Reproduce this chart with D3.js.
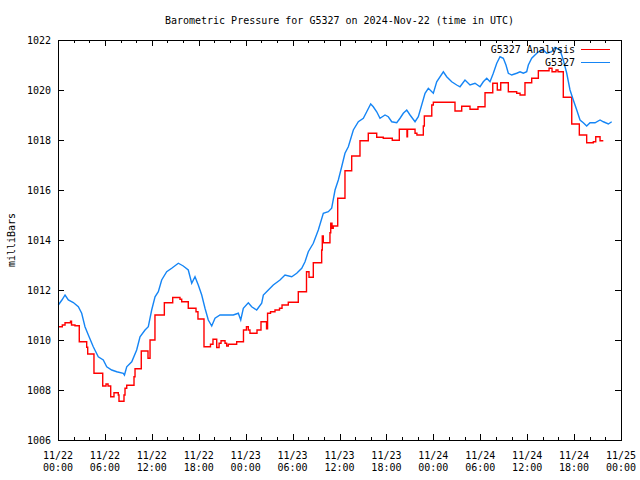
<!DOCTYPE html>
<html><head><meta charset="utf-8">
<script src="https://cdn.jsdelivr.net/npm/d3@7"></script>
<style>
body{margin:0;background:#fff}
svg{display:block}
text{font-family:"DejaVu Sans Mono","Liberation Mono",monospace;font-size:10px;fill:#000}
</style>
</head><body><svg id="c" width="640" height="480"></svg>
<script>
const chartTitle = "Barometric Pressure for G5327 on 2024-Nov-22 (time in UTC)";
const yAxisLabel = "milliBars";
const seriesNames = ["G5327 Analysis", "G5327"];
const startTime = "2024-11-22T00:00:00Z";
const endTime = "2024-11-25T00:00:00Z";
const yTickValues = [1006, 1008, 1010, 1012, 1014, 1016, 1018, 1020, 1022];

// Analysis (step) series: hours since start, pressure (mb)
const anaHours = [0,0.55,0.9,1.6,1.73,2.17,2.72,3.67,3.8,4.6,
5.72,6.14,6.4,6.74,7.16,7.71,7.8,8.44,8.57,8.79,
9.72,9.85,10.65,11.51,11.77,12.4,13.6,14.67,15.6,15.82,
16.66,17.65,17.9,18.67,19.5,19.82,20.3,20.6,20.85,21.36,
21.57,21.78,22.85,23.72,24.1,24.34,24.55,25.45,25.96,26.67,
26.8,27.18,27.75,28.33,28.65,29.45,30.73,31.78,32.1,32.65,
33.72,33.8,33.93,34.78,34.88,35.04,35.2,35.77,36.7,37.56,
38.62,39.68,40.76,41.6,42.75,43.65,44.63,44.7,45.66,45.9,
46.72,46.85,47.8,48.0,50.77,51.63,52.69,53.71,54.61,55.6,
56.18,56.62,57.59,58.66,59.09,59.72,60.58,61.43,62.8,63.18,
63.69,63.94,64.62,65.7,66.67,67.61,68.46,68.77,69.32,69.74];
const anaPressure = [1010.53,1010.6,1010.69,1010.75,1010.6,1010.57,1009.93,1009.71,1009.44,1008.67,
1008.16,1008.24,1008.16,1007.73,1007.89,1007.8,1007.55,1007.8,1008.07,1008.19,
1008.53,1008.85,1009.56,1009.27,1010.0,1011.0,1011.49,1011.7,1011.63,1011.53,
1011.27,1011.13,1010.84,1009.73,1009.83,1010.03,1009.7,1009.87,1009.97,1009.87,
1009.76,1009.83,1009.93,1010.4,1010.53,1010.4,1010.27,1010.4,1010.73,1010.45,
1011.07,1011.13,1011.2,1011.27,1011.4,1011.51,1011.93,1012.73,1012.51,1013.09,
1013.6,1014.16,1013.89,1014.29,1014.67,1014.47,1014.56,1015.67,1016.77,1017.36,
1017.97,1018.27,1018.11,1018.07,1017.99,1018.43,1018.13,1018.43,1018.27,1018.2,
1018.56,1018.96,1019.4,1019.51,1019.16,1019.35,1019.23,1019.33,1019.89,1020.27,
1020.0,1020.29,1019.93,1019.87,1019.8,1020.29,1020.47,1020.77,1020.87,1020.73,
1020.8,1020.73,1019.71,1018.64,1018.2,1017.89,1017.93,1018.13,1017.97,1017.97];

// Observed series: hours since start, pressure (mb)
const obsHours = [0.04,0.5,0.9,1.32,1.96,2.6,3.03,3.45,3.88,4.51,
5.15,5.79,6.23,6.87,7.51,8.35,8.5,8.79,9.43,10.06,
10.49,11.13,11.55,11.98,12.41,12.83,13.26,13.9,14.54,15.39,
16.02,16.66,17.1,17.52,17.94,18.38,18.8,19.22,19.66,20.08,
20.72,21.57,22.42,23.06,23.37,23.7,24.34,24.77,25.41,26.05,
26.26,26.9,27.53,28.39,29.03,29.89,30.53,31.17,31.59,32.01,
32.65,33.29,33.93,34.57,35.0,35.43,35.85,36.28,36.7,37.13,
37.77,38.41,39.05,39.48,39.99,40.32,40.76,41.18,41.82,42.24,
42.68,43.32,43.74,44.16,44.6,45.02,45.66,46.08,46.51,46.94,
47.36,48.0,48.43,49.28,49.71,50.35,50.99,51.41,52.05,52.69,
53.33,53.97,54.39,54.83,55.25,55.67,56.11,56.53,56.95,57.29,
57.59,58.02,58.66,59.09,59.51,59.94,60.15,60.58,61.0,61.43,
62.07,62.5,63.14,63.56,64.2,64.62,65.06,65.48,65.9,66.34,
66.76,67.18,67.61,68.04,68.68,69.32,69.74,70.38,70.81];
const obsPressure = [1011.4,1011.6,1011.8,1011.6,1011.5,1011.33,1011.07,1010.53,1010.2,1009.73,
1009.33,1009.2,1008.93,1008.8,1008.73,1008.67,1008.6,1008.93,1009.13,1009.6,
1010.13,1010.4,1010.53,1011.2,1011.73,1011.93,1012.4,1012.73,1012.87,1013.07,
1012.96,1012.8,1012.27,1012.53,1012.2,1011.8,1011.27,1010.8,1010.56,1010.87,
1011.0,1011.0,1011.0,1011.07,1010.8,1011.27,1011.49,1011.33,1011.2,1011.47,
1011.8,1012.0,1012.2,1012.4,1012.6,1012.53,1012.67,1012.87,1013.13,1013.53,
1013.87,1014.4,1015.07,1015.13,1015.27,1016.0,1016.4,1016.93,1017.47,1017.73,
1018.4,1018.73,1018.87,1019.13,1019.44,1019.33,1019.13,1018.87,1019.0,1018.93,
1018.73,1018.69,1018.87,1019.07,1019.2,1019.0,1018.73,1018.93,1019.4,1019.87,
1020.07,1019.87,1020.33,1020.73,1020.53,1020.33,1020.2,1020.13,1020.4,1020.2,
1020.27,1020.13,1020.33,1020.47,1020.33,1020.67,1021.07,1021.33,1021.27,1021.0,
1020.67,1020.6,1020.67,1020.73,1020.67,1020.73,1021.0,1021.27,1021.4,1021.53,
1021.6,1021.47,1021.53,1021.7,1021.6,1021.2,1020.67,1020.0,1019.6,1019.2,
1018.8,1018.69,1018.56,1018.69,1018.69,1018.8,1018.73,1018.64,1018.73];

const colors = {analysis: "#ff0000", obs: "#1585f5"};
const margin = {left: 58, right: 621, top: 40, bottom: 440};

const svg = d3.select("#c");
const t0 = new Date(startTime), t1 = new Date(endTime);
const toDate = h => new Date(t0.getTime() + h * 3600e3);

const x = d3.scaleUtc().domain([t0, t1]).range([margin.left, margin.right]);
const y = d3.scaleLinear().domain([1006, 1022]).range([margin.bottom, margin.top]);

const majorTicks = x.ticks(d3.utcHour.every(6));
const minorTicks = x.ticks(d3.utcHour.every(2)).filter(d => d.getUTCHours() % 6 !== 0);

function axisG(axis, tx, ty) {
  const g = svg.append("g").attr("transform", `translate(${tx},${ty})`).attr("shape-rendering", "crispEdges").call(axis);
  g.select(".domain").remove();
  g.selectAll("line").attr("stroke", "#000");
  return g;
}
axisG(d3.axisBottom(x).tickValues(majorTicks).tickSize(-6).tickFormat(""), 0, margin.bottom);
axisG(d3.axisBottom(x).tickValues(minorTicks).tickSize(-3).tickFormat(""), 0, margin.bottom);
axisG(d3.axisTop(x).tickValues(majorTicks).tickSize(-6).tickFormat(""), 0, margin.top);
axisG(d3.axisTop(x).tickValues(minorTicks).tickSize(-3).tickFormat(""), 0, margin.top);
const yl = axisG(d3.axisLeft(y).tickValues(yTickValues).tickSize(-6).tickPadding(7).tickFormat(d3.format("d")), margin.left, 0);
yl.selectAll("text").attr("font-family", null).attr("font-size", null).attr("fill", "#000").attr("dy", "0.36em");
axisG(d3.axisRight(y).tickValues(yTickValues).tickSize(-6).tickFormat(""), margin.right, 0);

const fmtDay = d3.utcFormat("%m/%d"), fmtTime = d3.utcFormat("%H:%M");
const xl = svg.append("g");
majorTicks.forEach(d => {
  const t = xl.append("text").attr("text-anchor", "middle");
  t.append("tspan").attr("x", x(d)).attr("y", 459).text(fmtDay(d));
  t.append("tspan").attr("x", x(d)).attr("y", 471).text(fmtTime(d));
});

const anaData = anaHours.map((h, i) => [toDate(h), anaPressure[i]]);
const obsData = obsHours.map((h, i) => [toDate(h), obsPressure[i]]);

svg.append("path").datum(anaData)
  .attr("d", d3.line().x(d => x(d[0])).y(d => y(d[1])).curve(d3.curveStepAfter))
  .attr("fill", "none").attr("stroke", colors.analysis).attr("stroke-width", 1.4);
svg.append("path").datum(obsData)
  .attr("d", d3.line().x(d => x(d[0])).y(d => y(d[1])))
  .attr("fill", "none").attr("stroke", colors.obs).attr("stroke-width", 1.4);

svg.append("rect").attr("x", margin.left + 0.5).attr("y", margin.top + 0.5)
  .attr("width", margin.right - margin.left).attr("height", margin.bottom - margin.top)
  .attr("fill", "none").attr("stroke", "#000").attr("shape-rendering", "crispEdges");

svg.append("text").attr("x", (margin.left + margin.right) / 2).attr("y", 24)
  .attr("text-anchor", "middle").text(chartTitle);

svg.append("text").attr("transform", "translate(15,240) rotate(-90)")
  .attr("text-anchor", "middle").text(yAxisLabel);

const legendColors = [colors.analysis, colors.obs];
seriesNames.forEach((n, i) => {
  const ly = 49 + i * 13;
  svg.append("text").attr("x", 575).attr("y", ly + 3.6).attr("text-anchor", "end").text(n);
  svg.append("line").attr("x1", 581).attr("x2", 610).attr("y1", ly + 0.5).attr("y2", ly + 0.5)
    .attr("stroke", legendColors[i]).attr("stroke-width", 1).attr("shape-rendering", "crispEdges");
});
</script>
</body></html>
